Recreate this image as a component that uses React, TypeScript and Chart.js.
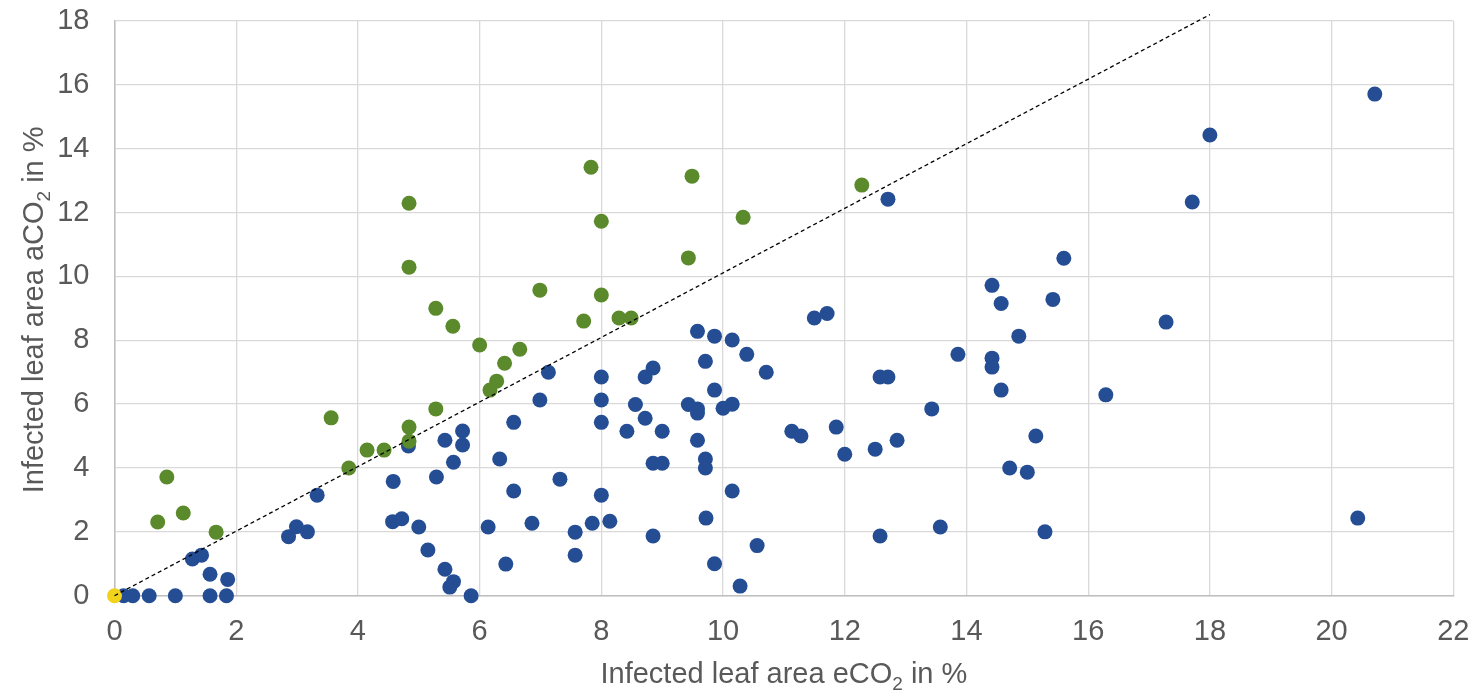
import React, { useEffect, useRef } from "react";
import { Chart, registerables } from "chart.js";

Chart.register(...registerables);

// Plants whose infection under elevated CO2 was higher than under ambient CO2
const blueX = [
  0.15, 0.3, 0.57, 1.0, 1.28, 1.43, 1.57, 1.57, 1.86, 1.84, 2.86, 2.99, 3.17, 3.33, 4.58, 4.57, 4.72, 4.83,
  5.0, 5.15, 5.29, 5.43, 5.72, 5.72, 5.57, 5.43, 5.57, 5.51, 5.86, 6.14, 6.33, 6.43, 6.56, 6.56, 6.86, 6.99,
  7.13, 7.32, 7.57, 7.57, 7.85, 8.0, 8.0, 8.0, 8.0, 8.14, 8.42, 8.56, 8.72, 8.72, 8.85, 8.85, 8.85, 9.0, 9.0,
  9.43, 9.58, 9.58, 9.58, 9.58, 9.71, 9.71, 9.71, 9.72, 9.86, 9.86, 9.86, 10.0, 10.15, 10.15, 10.15, 10.28,
  10.39, 10.56, 10.71, 11.13, 11.28, 11.5, 11.71, 11.86, 12.0, 12.5, 12.58, 12.58, 12.71, 12.71, 12.86, 13.43,
  13.57, 13.86, 14.42, 14.42, 14.42, 14.57, 14.57, 14.71, 14.86, 15.0, 15.14, 15.29, 15.42, 15.6, 16.29, 17.28,
  17.71, 18.0, 20.43, 20.71,
];
const blueY = [
  0, 0, 0, 0, 1.15, 1.27, 0.67, 0, 0.51, 0, 1.85, 2.16, 2.0, 3.15, 3.58, 2.32, 2.41, 4.69,
  2.15, 1.43, 3.72, 4.87, 5.16, 4.72, 4.18, 0.83, 0.44, 0.27, 0, 2.15, 4.28, 0.99, 5.43, 3.28, 2.27, 6.13,
  7.0, 3.65, 1.99, 1.27, 2.27, 6.85, 6.13, 5.43, 3.15, 2.33, 5.15, 5.99, 6.85, 5.56, 7.13, 1.87, 4.15, 4.15, 5.15,
  5.99, 8.28, 5.85, 5.72, 4.87, 7.34, 4.28, 4.0, 2.43, 8.13, 6.44, 1.0, 5.87, 8.01, 6.0, 3.28, 0.3,
  7.56, 1.57, 7.0, 5.15, 5.0, 8.7, 8.84, 5.28, 4.43, 4.59, 1.87, 6.85, 6.85, 12.42, 4.87, 5.85,
  2.15, 7.56, 9.72, 7.44, 7.16, 9.15, 6.44, 4.0, 8.13, 3.87, 5.0, 2.0, 9.28, 10.57, 6.29, 8.57,
  12.33, 14.43, 2.43, 15.71,
];

// Plants whose infection under ambient CO2 was higher
const greenX = [
  0.71, 0.86, 1.13, 1.67, 3.56, 3.85, 4.15, 4.43, 4.84, 4.84, 4.84, 4.84, 5.28, 5.28, 5.56, 6.0,
  6.17, 6.28, 6.41, 6.66, 6.99, 7.71, 7.83, 8.0, 8.0, 8.29, 8.49, 9.43, 9.49, 10.33, 12.28,
];
const greenY = [
  2.31, 3.72, 2.59, 1.99, 5.57, 4.0, 4.56, 4.56, 12.29, 10.29, 5.28, 4.84, 9.0, 5.85, 8.44, 7.85,
  6.44, 6.72, 7.28, 7.72, 9.57, 8.6, 13.42, 11.73, 9.42, 8.7, 8.7, 10.58, 13.14, 11.85, 12.86,
];

// Uninfected under both treatments
const yellowX = [0];
const yellowY = [0];

// 1:1 reference line
const refX = [0, 18];
const refY = [0, 18.2];

const xTicks = [0, 2, 4, 6, 8, 10, 12, 14, 16, 18, 20, 22];
const yTicks = [0, 2, 4, 6, 8, 10, 12, 14, 16, 18];

// Axis titles: [text before subscript, subscript, text after]
const xTitle = ["Infected leaf area eCO", "2", " in %"];
const yTitle = ["Infected leaf area aCO", "2", " in %"];

const toPoints = (xs: number[], ys: number[]) => xs.map((x, i) => ({ x, y: ys[i] }));

const FONT = "'Liberation Sans', Arial, sans-serif";
const TEXT_COLOR = "#595959";
const GRID_COLOR = "#D9D9D9";
const FONT_SIZE = 29;
const SUB_SIZE = 19;
const SUB_SHIFT = 7;

// Plot-area margins inside the 1481x690 canvas
const AREA_LEFT = 114.5;
const AREA_TOP = 21;
const AREA_RIGHT_GAP = 27.7;
const AREA_BOTTOM_GAP = 94.3;

// Draws a title with a lowered subscript, centred on (0,0) of the current transform,
// with its baseline on y = 0.
function drawSubscriptTitle(ctx: CanvasRenderingContext2D, parts: string[]) {
  const main = `${FONT_SIZE}px ${FONT}`;
  const sub = `${SUB_SIZE}px ${FONT}`;
  ctx.font = main;
  const w0 = ctx.measureText(parts[0]).width;
  const w2 = ctx.measureText(parts[2]).width;
  ctx.font = sub;
  const w1 = ctx.measureText(parts[1]).width;
  let x = -(w0 + w1 + w2) / 2;
  ctx.fillStyle = TEXT_COLOR;
  ctx.textAlign = "left";
  ctx.textBaseline = "alphabetic";
  ctx.font = main;
  ctx.fillText(parts[0], x, 0);
  x += w0;
  ctx.font = sub;
  ctx.fillText(parts[1], x, SUB_SHIFT);
  x += w1;
  ctx.font = main;
  ctx.fillText(parts[2], x, 0);
}

const axisTitlesPlugin = {
  id: "axisTitlesWithSubscript",
  afterDraw(chart: any) {
    const { ctx, chartArea } = chart;
    const cx = (chartArea.left + chartArea.right) / 2;
    const cy = (chartArea.top + chartArea.bottom) / 2;
    ctx.save();
    ctx.translate(cx, 683.3);
    drawSubscriptTitle(ctx, xTitle);
    ctx.restore();

    ctx.save();
    ctx.translate(43, cy + 1.5);
    ctx.rotate(-Math.PI / 2);
    drawSubscriptTitle(ctx, yTitle);
    ctx.restore();
  },
};

export default function App() {
  const canvasRef = useRef<HTMLCanvasElement | null>(null);

  useEffect(() => {
    if (!canvasRef.current) return;
    const pointStyle = {
      borderWidth: 0,
      pointRadius: 7.5,
      pointHoverRadius: 7.5,
      clip: false as any,
    };
    const chart = new Chart(canvasRef.current, {
      type: "scatter",
      data: {
        datasets: [
          {
            type: "line",
            label: "1:1",
            data: toPoints(refX, refY),
            borderColor: "#000000",
            borderWidth: 1.3,
            borderDash: [4, 3],
            pointRadius: 0,
            fill: false,
            clip: false as any,
            order: 0,
          },
          {
            label: "0",
            data: toPoints(yellowX, yellowY),
            backgroundColor: "#F2D31B",
            order: 1,
            ...pointStyle,
          },
          {
            label: "aCO2 > eCO2",
            data: toPoints(greenX, greenY),
            backgroundColor: "#5A8A2B",
            order: 2,
            ...pointStyle,
          },
          {
            label: "eCO2 > aCO2",
            data: toPoints(blueX, blueY),
            backgroundColor: "#244D94",
            order: 3,
            ...pointStyle,
          },
        ],
      },
      options: {
        animation: false,
        responsive: true,
        maintainAspectRatio: false,
        layout: { autoPadding: false, padding: 0 },
        plugins: {
          legend: { display: false },
          tooltip: { enabled: false },
        },
        scales: {
          x: {
            type: "linear",
            min: 0,
            max: 22,
            afterBuildTicks: (scale: any) => {
              scale.ticks = xTicks.map((v) => ({ value: v }));
            },
            afterFit: (scale: any) => {
              scale.height = AREA_BOTTOM_GAP;
              scale.paddingLeft = 0;
              scale.paddingRight = AREA_RIGHT_GAP;
            },
            grid: { color: GRID_COLOR, lineWidth: 1.3, drawTicks: false },
            border: { color: "#BFBFBF", width: 1.5 },
            ticks: {
              padding: 18.9,
              color: TEXT_COLOR,
              font: { family: FONT, size: FONT_SIZE },
            },
            title: { display: false },
          },
          y: {
            type: "linear",
            min: 0,
            max: 18,
            afterBuildTicks: (scale: any) => {
              scale.ticks = yTicks.map((v) => ({ value: v }));
            },
            afterFit: (scale: any) => {
              scale.width = AREA_LEFT;
              scale.paddingTop = AREA_TOP;
              scale.paddingBottom = 0;
            },
            grid: { color: GRID_COLOR, lineWidth: 1.3, drawTicks: false },
            border: { color: "#BFBFBF", width: 1.5 },
            ticks: {
              padding: 25,
              color: TEXT_COLOR,
              font: { family: FONT, size: FONT_SIZE },
            },
            title: { display: false },
          },
        },
      },
      plugins: [axisTitlesPlugin],
    } as any);
    return () => chart.destroy();
  }, []);

  return (
    <div style={{ position: "fixed", left: 0, top: 0, width: 1481, height: 690, background: "#ffffff" }}>
      <canvas ref={canvasRef} />
    </div>
  );
}
